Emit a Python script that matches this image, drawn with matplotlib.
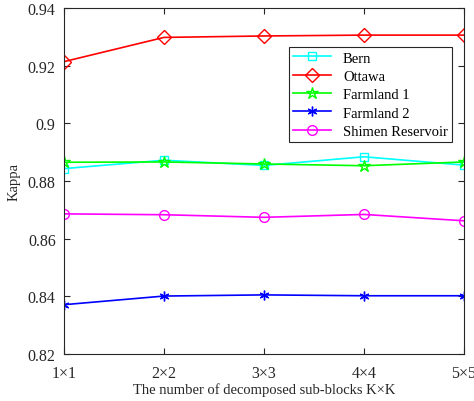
import matplotlib
matplotlib.use("Agg")
import matplotlib.pyplot as plt

plt.rcParams['font.family'] = ['Liberation Serif', 'DejaVu Serif']

x_labels = ["1×1", "2×2", "3×3", "4×4", "5×5"]
bern = [0.8843, 0.8872, 0.8854, 0.8884, 0.8855]
ottawa = [0.9214, 0.9298, 0.9303, 0.9306, 0.9306]
farmland1 = [0.8865, 0.8866, 0.8859, 0.8853, 0.8866]
farmland2 = [0.8371, 0.8401, 0.8405, 0.8402, 0.8402]
shimen = [0.8686, 0.8683, 0.8674, 0.8684, 0.8662]
y_ticks = [0.82, 0.84, 0.86, 0.88, 0.9, 0.92, 0.94]
y_ticklabels = ["0.82", "0.84", "0.86", "0.88", "0.9", "0.92", "0.94"]

fig = plt.figure(figsize=(4.74, 4.02), dpi=100)
ax = fig.add_axes([64/474, 1-355/402, 400/474, 346/402])
xs = list(range(1, len(x_labels)+1))

ax.plot(xs, bern, color='#00FFFF', marker='s', markersize=6, mfc='none', lw=1.2, label='Bern')
ax.plot(xs, ottawa, color='#FF0000', marker='D', markersize=7, mfc='none', lw=1.2, label='Ottawa')
ax.plot(xs, farmland1, color='#00FF00', marker='*', markersize=9, mfc='none', lw=1.2, label='Farmland 1')
ax.plot(xs, farmland2, color='#0000FF', marker=(6, 2, 0), markersize=7, lw=1.2, label='Farmland 2')
ax.plot(xs, shimen, color='#FF00FF', marker='o', markersize=7, mfc='none', lw=1.2, label='Shimen Reservoir')

ax.set_xlim(1, 5)
ax.set_ylim(0.82, 0.94)
ax.set_xticks(xs)
ax.set_xticklabels(x_labels)
ax.set_yticks(y_ticks)
ax.set_yticklabels(y_ticklabels)
ax.tick_params(direction='in', top=True, right=True, labelsize=11.5, length=4, colors='#262626')
ax.tick_params(axis='x', pad=8)
ax.tick_params(axis='y', pad=6)
for s in ax.spines.values():
    s.set_color('#262626')
    s.set_linewidth(0.8)
ax.set_xlabel('The number of decomposed sub-blocks K×K', fontsize=10.5, color='#262626', labelpad=1)
ax.set_ylabel('Kappa', fontsize=10.5, color='#262626', labelpad=5)

leg = ax.legend(loc='upper left', bbox_to_anchor=((289-64)/400, (355-48)/346), fontsize=10.5,
                fancybox=False, framealpha=1, edgecolor='#262626', borderpad=0.3,
                handlelength=2.6, labelspacing=0.35, borderaxespad=0)
leg.get_frame().set_linewidth(0.8)

fig.savefig('out.png', dpi=100)
